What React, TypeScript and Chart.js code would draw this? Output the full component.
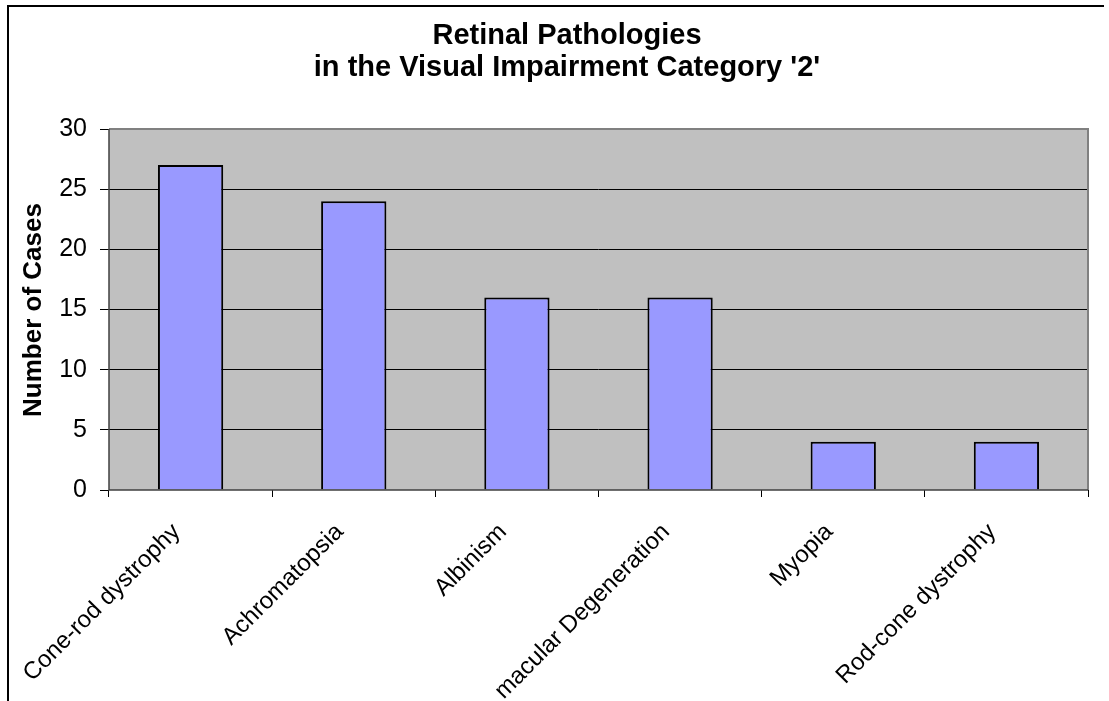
import React, { useEffect, useRef } from "react";
import { Chart, registerables } from "chart.js";

Chart.register(...registerables);

const categories = [
  "Cone-rod dystrophy",
  "Achromatopsia",
  "Albinism",
  "macular Degeneration",
  "Myopia",
  "Rod-cone dystrophy",
];
const cases = [27, 24, 16, 16, 4, 4];
const titleLines = ["Retinal Pathologies", "in the Visual Impairment Category '2'"];
const yAxisTitle = "Number of Cases";

const FONT = "'Liberation Sans', Arial, sans-serif";

const decorPlugin = {
  id: "decor",
  beforeDraw(chart: any) {
    const { ctx, chartArea } = chart;
    ctx.save();
    ctx.fillStyle = "#ffffff";
    ctx.fillRect(0, 0, chart.width, chart.height);
    ctx.fillStyle = "#c0c0c0";
    ctx.fillRect(chartArea.left, chartArea.top, chartArea.right - chartArea.left, chartArea.bottom - chartArea.top);
    ctx.strokeStyle = "#000000";
    ctx.lineWidth = 2;
    ctx.beginPath();
    ctx.moveTo(8, 702);
    ctx.lineTo(8, 6);
    ctx.lineTo(1104, 6);
    ctx.stroke();
    ctx.restore();
  },
  afterDatasetsDraw(chart: any) {
    const { ctx, chartArea } = chart;
    ctx.save();
    ctx.strokeStyle = "#808080";
    ctx.lineWidth = 2;
    ctx.beginPath();
    ctx.moveTo(chartArea.left, chartArea.top);
    ctx.lineTo(chartArea.right, chartArea.top);
    ctx.lineTo(chartArea.right, chartArea.bottom);
    ctx.stroke();
    ctx.strokeStyle = "#404040";
    ctx.lineWidth = 1.5;
    ctx.beginPath();
    ctx.moveTo(chartArea.left, chartArea.top);
    ctx.lineTo(chartArea.left, chartArea.bottom);
    ctx.lineTo(chartArea.right, chartArea.bottom);
    ctx.stroke();
    ctx.fillStyle = "#000000";
    ctx.font = `bold 29px ${FONT}`;
    ctx.textAlign = "center";
    ctx.textBaseline = "alphabetic";
    ctx.fillText(titleLines[0], 567, 44);
    ctx.fillText(titleLines[1], 567, 76);
    ctx.translate(34, 310);
    ctx.rotate(-Math.PI / 2);
    ctx.textBaseline = "middle";
    ctx.font = `bold 26px ${FONT}`;
    ctx.fillText(yAxisTitle, 0, 0);
    ctx.restore();
  },
};

export default function App() {
  const ref = useRef<HTMLCanvasElement>(null);
  useEffect(() => {
    if (!ref.current) return;
    const chart = new Chart(ref.current, {
      type: "bar",
      data: {
        labels: categories,
        datasets: [
          {
            data: cases,
            backgroundColor: "#9999ff",
            borderColor: "#000000",
            borderWidth: 2,
            categoryPercentage: 0.4,
            barPercentage: 1.0,
          },
        ],
      },
      options: {
        animation: false,
        responsive: false,
        maintainAspectRatio: false,
        layout: { padding: { left: 0, top: 129, right: 21, bottom: 0 } },
        plugins: {
          legend: { display: false },
          title: { display: false },
          tooltip: { enabled: false },
        },
        scales: {
          x: {
            afterFit(scale: any) {
              scale.height = 211;
            },
            grid: {
              offset: true,
              drawOnChartArea: false,
              drawTicks: true,
              tickLength: 7,
              color: "#000000",
            },
            border: { display: false },
            ticks: {
              minRotation: 45,
              maxRotation: 45,
              padding: 21,
              labelOffset: -14,
              color: "#000000",
              font: { family: FONT, size: 24 },
            },
          },
          y: {
            min: 0,
            max: 30,
            afterFit(scale: any) {
              scale.width = 109;
            },
            grid: {
              color: (c: any) => (c.tick && (c.tick.value === 0 || c.tick.value === 30) ? "rgba(0,0,0,0)" : "#000000"),
              tickColor: "#000000",
              tickLength: 9,
              lineWidth: 1,
            },
            border: { display: false },
            ticks: {
              stepSize: 5,
              padding: 13,
              color: "#000000",
              font: { family: FONT, size: 25 },
            },
          },
        },
      },
      plugins: [decorPlugin],
    });
    return () => chart.destroy();
  }, []);
  return (
    <div style={{ position: "absolute", left: 0, top: 0, width: 1109, height: 701 }}>
      <canvas ref={ref} width={1109} height={701} style={{ display: "block" }} />
    </div>
  );
}
